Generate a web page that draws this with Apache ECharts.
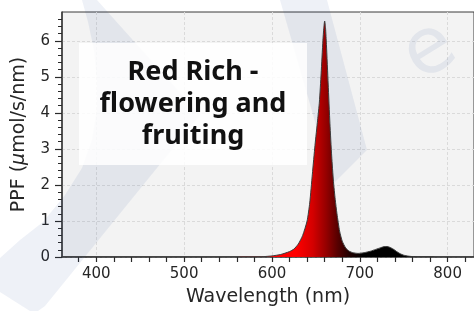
<!DOCTYPE html>
<html>
<head>
<meta charset="utf-8">
<script src="https://cdn.jsdelivr.net/npm/echarts@6/dist/echarts.min.js"></script>
<style>
html,body{margin:0;padding:0;background:#fff;}
#c{width:474px;height:312px;}
</style>
</head>
<body>
<div id="c"></div>
<script>
// ---- data ----
const wavelengths = [361, 400, 450, 500, 550, 580, 590, 600, 610, 620, 625, 630, 635, 640, 643, 646, 649, 652, 654, 656, 658, 659, 660, 661, 662, 664, 666, 668, 670, 672, 674, 677, 680, 684, 688, 692, 698, 705, 712, 718, 724, 728, 731, 734, 738, 742, 746, 750, 755, 760, 770, 790, 830];
const ppf = [0, 0, 0, 0, 0, 0.005, 0.01, 0.03, 0.07, 0.15, 0.22, 0.36, 0.6, 1.0, 1.5, 2.3, 3.1, 3.8, 4.3, 5.1, 6.0, 6.35, 6.55, 6.35, 5.9, 4.8, 3.7, 2.8, 2.1, 1.6, 1.2, 0.72, 0.44, 0.25, 0.16, 0.12, 0.1, 0.12, 0.16, 0.21, 0.26, 0.29, 0.29, 0.27, 0.22, 0.15, 0.09, 0.05, 0.025, 0.012, 0.004, 0, 0];
const xMajorTicks = [400, 500, 600, 700, 800];
const xMinorTicks = [380, 420, 440, 460, 480, 520, 540, 560, 580, 620, 640, 660, 680, 720, 740, 760, 780, 820];
const yMajorTicks = [0, 1, 2, 3, 4, 5, 6];
const yMinorTicks = [0.2,0.4,0.6,0.8,1.2,1.4,1.6,1.8,2.2,2.4,2.6,2.8,3.2,3.4,3.6,3.8,4.2,4.4,4.6,4.8,5.2,5.4,5.6,5.8,6.2,6.4,6.6];
const titleLines = ['Red Rich -', 'flowering and', 'fruiting'];
const xName = 'Wavelength (nm)';

// ---- layout ----
const W = 474, H = 312;
const gLeft = 62, gTop = 12, gRight = -4, gBottom = 54;
const xMin = 361, xMax = 830, yMin = 0, yMax = 6.8;
const gWidth = W - gLeft - gRight;
function nmToPx(nm){ return gLeft + (nm - xMin) / (xMax - xMin) * gWidth; }

const wm = 'rgba(30,70,150,0.075)';
const tickColor = '#2a2a2a';
const labelFont = 'DejaVu Sans';

const chart = echarts.init(document.getElementById('c'), null, {renderer: 'canvas'});

const option = {
  animation: false,
  backgroundColor: '#ffffff',
  grid: {
    left: gLeft, top: gTop, right: gRight, bottom: gBottom,
    show: true, backgroundColor: '#f3f3f3', borderColor: '#3a3a3a', borderWidth: 1
  },
  xAxis: [
    {
      type: 'value', min: xMin, max: xMax, position: 'bottom',
      name: xName, nameLocation: 'middle', nameGap: 31,
      nameTextStyle: {fontFamily: labelFont, fontSize: 19, color: '#262626'},
      axisLine: {show: true, lineStyle: {color: '#3a3a3a', width: 1.5}},
      axisTick: {show: true, length: 5, customValues: xMajorTicks, lineStyle: {color: tickColor, width: 1.2}},
      axisLabel: {show: true, customValues: xMajorTicks, margin: 10, fontFamily: labelFont, fontSize: 15, color: '#262626'},
      splitLine: {show: true, lineStyle: {color: '#dadada', type: [3, 2], width: 1}}
    },
    {
      type: 'value', min: xMin, max: xMax, position: 'bottom', gridIndex: 0,
      axisLine: {show: false},
      axisTick: {show: true, length: 5, customValues: xMinorTicks, lineStyle: {color: tickColor, width: 1.2}},
      axisLabel: {show: false},
      splitLine: {show: false}
    }
  ],
  yAxis: [
    {
      type: 'value', min: yMin, max: yMax, position: 'left',
      name: '{n|PPF (}{i|μ}{n|mol/s/nm)}', nameLocation: 'middle', nameGap: 33, nameRotate: 90,
      nameTextStyle: {
        rich: {
          n: {fontFamily: labelFont, fontSize: 19, color: '#262626'},
          i: {fontFamily: labelFont, fontSize: 19, fontStyle: 'italic', color: '#262626'}
        }
      },
      axisLine: {show: true, lineStyle: {color: '#3a3a3a', width: 1.5}},
      axisTick: {show: true, length: 7, customValues: yMajorTicks, lineStyle: {color: tickColor, width: 1.2}},
      axisLabel: {show: true, customValues: yMajorTicks, margin: 12, fontFamily: labelFont, fontSize: 15, color: '#262626'},
      splitLine: {show: true, lineStyle: {color: '#dadada', type: [3, 2], width: 1}}
    },
    {
      type: 'value', min: yMin, max: yMax, position: 'left', gridIndex: 0,
      axisLine: {show: false},
      axisTick: {show: true, length: 4, customValues: yMinorTicks, lineStyle: {color: tickColor, width: 1}},
      axisLabel: {show: false},
      splitLine: {show: false}
    }
  ],
  graphic: [
    // watermark shapes
    {type: 'polygon', z: 1, silent: true,
     shape: {points: [[82,0],[97,0],[200,115],[45,306],[38,311],[30,311],[22,306],[0,292],[0,258],[20,240],[43,222],[65,195],[82,168],[92,140],[97,110],[97,80],[94,50],[88,22]]},
     style: {fill: wm}},
    {type: 'polygon', z: 1, silent: true,
     shape: {points: [[280, 0], [327, 0], [367, 150], [333, 184]]},
     style: {fill: wm}},
    {type: 'text', z: 1, silent: true, x: 430, y: 52, rotation: 0.55,
     style: {text: 'e', fontFamily: 'DejaVu Sans', fontSize: 78, fill: wm, align: 'center', verticalAlign: 'middle'}},
    // text box
    {type: 'rect', z: 5, silent: true,
     shape: {x: 79, y: 43, width: 228, height: 122},
     style: {fill: 'rgba(255,255,255,0.85)'}},
    {type: 'text', z: 6, silent: true, x: 193, y: 104,
     style: {text: titleLines.join('\n'), fontFamily: 'Noto Sans', fontWeight: 'bold', fontSize: 27, lineHeight: 32,
             fill: '#111111', align: 'center', verticalAlign: 'middle'}}
  ],
  series: [
    {
      type: 'line', xAxisIndex: 0, yAxisIndex: 0, z: 3,
      data: wavelengths.map((w, i) => [w, ppf[i]]),
      showSymbol: false, symbol: 'none', smooth: 0.2,
      lineStyle: {color: '#3c3c3c', width: 1},
      areaStyle: {
        opacity: 1,
        color: {
          type: 'linear', global: true,
          x: nmToPx(625), y: 0, x2: nmToPx(700), y2: 0,
          colorStops: [
            {offset: 0, color: '#ff0000'},
            {offset: 0.25, color: '#d40000'},
            {offset: 0.45, color: '#950000'},
            {offset: 0.62, color: '#580000'},
            {offset: 0.8, color: '#200000'},
            {offset: 1, color: '#000000'}
          ]
        }
      }
    }
  ]
};
chart.setOption(option);
</script>
</body>
</html>
